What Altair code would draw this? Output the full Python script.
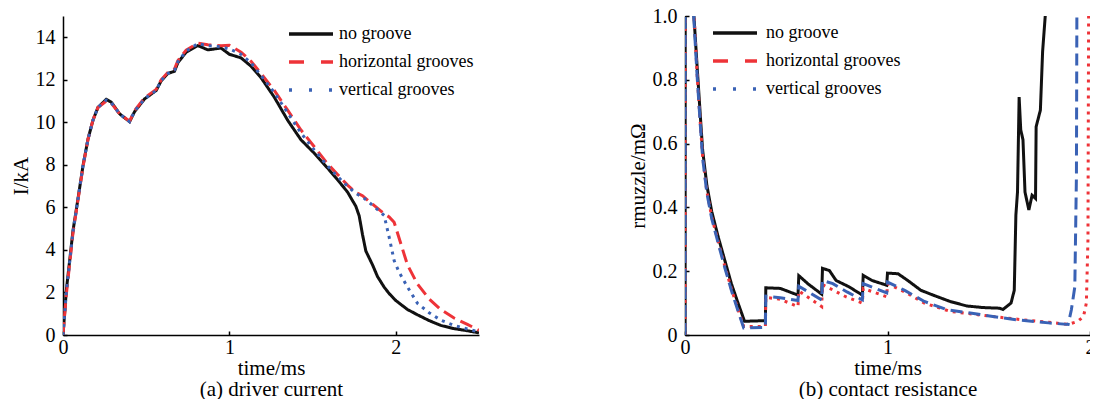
import altair as alt
import pandas as pd

SERIES = ["no groove", "horizontal grooves", "vertical grooves"]
COLORS = ["#111111", "#ee3338", "#3a62b5"]
FONT = "Liberation Serif"

# (a) driver current: (time ms, current kA)
L_NONE = [(0, 0), (0.02, 2.1), (0.06, 4.9), (0.09, 6.4), (0.12, 7.95), (0.15, 9.2), (0.18, 10.1),
          (0.21, 10.7), (0.26, 11.08), (0.29, 10.95), (0.34, 10.4), (0.40, 10.03), (0.43, 10.5),
          (0.49, 11.1), (0.56, 11.5), (0.59, 11.95), (0.63, 12.3), (0.67, 12.4), (0.69, 12.8),
          (0.74, 13.3), (0.81, 13.61), (0.87, 13.41), (0.95, 13.49), (1.0, 13.2), (1.07, 13.03),
          (1.13, 12.64), (1.19, 12.1), (1.27, 11.18), (1.35, 10.1), (1.43, 9.18), (1.51, 8.55),
          (1.59, 7.85), (1.65, 7.3), (1.71, 6.72), (1.76, 6.05), (1.78, 5.6), (1.80, 4.72),
          (1.82, 3.95), (1.86, 3.3), (1.89, 2.75), (1.93, 2.25), (1.96, 1.95), (2.0, 1.62),
          (2.07, 1.2), (2.13, 0.95), (2.2, 0.68), (2.27, 0.45), (2.35, 0.3), (2.43, 0.2), (2.5, 0.1)]
L_HORIZ = [(0, 0), (0.02, 1.9), (0.06, 4.8), (0.09, 6.35), (0.12, 7.9), (0.15, 9.2), (0.18, 10.1),
           (0.21, 10.7), (0.26, 11.0), (0.29, 10.9), (0.34, 10.4), (0.40, 10.05), (0.43, 10.55),
           (0.49, 11.15), (0.56, 11.55), (0.59, 12.0), (0.63, 12.35), (0.67, 12.5), (0.69, 12.9),
           (0.74, 13.4), (0.81, 13.72), (0.87, 13.65), (0.95, 13.6), (1.0, 13.62), (1.07, 13.3),
           (1.13, 12.87), (1.19, 12.3), (1.27, 11.5), (1.35, 10.57), (1.43, 9.64), (1.51, 8.85),
           (1.59, 8.05), (1.65, 7.55), (1.71, 7.05), (1.76, 6.7), (1.80, 6.55), (1.86, 6.15),
           (1.93, 5.7), (1.96, 5.55), (1.99, 5.3), (2.03, 4.3), (2.07, 3.3), (2.13, 2.4),
           (2.2, 1.7), (2.27, 1.2), (2.35, 0.8), (2.43, 0.5), (2.5, 0.22)]
L_VERT = [(0, 0), (0.02, 2.0), (0.06, 4.85), (0.09, 6.4), (0.12, 7.95), (0.15, 9.2), (0.18, 10.1),
          (0.21, 10.7), (0.26, 11.05), (0.29, 10.92), (0.34, 10.4), (0.40, 10.03), (0.43, 10.52),
          (0.49, 11.1), (0.56, 11.5), (0.59, 11.97), (0.63, 12.3), (0.67, 12.45), (0.69, 12.85),
          (0.74, 13.35), (0.81, 13.7), (0.87, 13.6), (0.95, 13.55), (1.0, 13.45), (1.07, 13.2),
          (1.13, 12.8), (1.19, 12.2), (1.27, 11.4), (1.35, 10.45), (1.43, 9.5), (1.51, 8.7),
          (1.59, 7.95), (1.65, 7.45), (1.71, 7.0), (1.76, 6.65), (1.80, 6.5), (1.86, 6.1),
          (1.93, 5.62), (1.96, 4.6), (1.99, 3.5), (2.02, 2.95), (2.07, 2.26), (2.13, 1.49),
          (2.2, 1.05), (2.27, 0.7), (2.35, 0.45), (2.43, 0.28), (2.5, 0.15)]

# (b) contact resistance: (time ms, rmuzzle mOhm)
R_NONE = [(0, 0), (0.001, 1.6), (0.03, 1.2), (0.044, 1.0), (0.06, 0.84), (0.076, 0.684), (0.087, 0.58),
          (0.108, 0.469), (0.132, 0.387), (0.165, 0.305), (0.197, 0.233), (0.229, 0.161), (0.262, 0.1),
          (0.294, 0.043), (0.397, 0.045), (0.399, 0.148), (0.471, 0.146), (0.558, 0.125), (0.562, 0.186),
          (0.61, 0.159), (0.675, 0.128), (0.679, 0.209), (0.713, 0.202), (0.746, 0.171), (0.81, 0.151),
          (0.876, 0.125), (0.88, 0.187), (0.923, 0.171), (0.996, 0.156), (1.0, 0.194), (1.052, 0.192),
          (1.1, 0.171), (1.165, 0.14), (1.246, 0.12), (1.31, 0.105), (1.391, 0.091), (1.472, 0.086),
          (1.553, 0.084), (1.57, 0.08), (1.61, 0.1), (1.626, 0.14), (1.634, 0.376), (1.642, 0.448),
          (1.65, 0.746), (1.658, 0.643), (1.669, 0.612), (1.679, 0.448), (1.698, 0.392), (1.714, 0.438),
          (1.731, 0.428), (1.734, 0.653), (1.755, 0.705), (1.766, 0.889), (1.779, 1.0), (1.79, 1.15)]
R_HORIZ = [(0, 0), (0.001, 1.6), (0.03, 1.2), (0.045, 1.0), (0.06, 0.815), (0.076, 0.66), (0.087, 0.56),
           (0.108, 0.45), (0.132, 0.37), (0.165, 0.29), (0.197, 0.215), (0.229, 0.145), (0.262, 0.08),
           (0.29, 0.027), (0.397, 0.027), (0.399, 0.118), (0.47, 0.112), (0.558, 0.089), (0.562, 0.138),
           (0.675, 0.089), (0.679, 0.158), (0.794, 0.12), (0.876, 0.1), (0.88, 0.146), (0.996, 0.12),
           (1.0, 0.161), (1.085, 0.135), (1.182, 0.1), (1.31, 0.074), (1.52, 0.058), (1.634, 0.05),
           (1.795, 0.04), (1.892, 0.033), (1.94, 0.043), (1.968, 0.058), (1.982, 0.1), (1.99, 0.3),
           (1.994, 1.2)]
R_VERT = [(0, 0), (0.001, 1.6), (0.03, 1.2), (0.043, 1.0), (0.06, 0.81), (0.076, 0.655), (0.087, 0.555),
          (0.108, 0.445), (0.132, 0.365), (0.165, 0.285), (0.197, 0.21), (0.229, 0.14), (0.262, 0.075),
          (0.29, 0.022), (0.397, 0.024), (0.399, 0.122), (0.47, 0.117), (0.558, 0.108), (0.562, 0.153),
          (0.675, 0.11), (0.679, 0.171), (0.73, 0.161), (0.8, 0.135), (0.876, 0.11), (0.88, 0.161),
          (0.996, 0.132), (1.0, 0.166), (1.085, 0.14), (1.182, 0.105), (1.295, 0.079), (1.408, 0.069),
          (1.52, 0.058), (1.634, 0.048), (1.795, 0.038), (1.892, 0.033), (1.908, 0.079), (1.925, 0.151),
          (1.933, 0.5), (1.936, 1.2)]

LEFT_X_TICKS = [0, 1, 2]
LEFT_Y_TICKS = [0, 2, 4, 6, 8, 10, 12, 14]
RIGHT_X_TICKS = [0, 1, 2]
RIGHT_Y_TICKS = [0, 0.2, 0.4, 0.6, 0.8, 1.0]

H = 319


def frame(series_lists):
    rows = []
    for name, pts in zip(SERIES, series_lists):
        for t, v in pts:
            rows.append({"series": name, "t": t, "v": v})
    return pd.DataFrame(rows)


def panel(df, xdom, xticks, ydom, yticks, ytitle, xtitle, W, plot_dash, key_dash,
          lx, ly, loff, ylabel_expr=None):
    xs = alt.Scale(domain=xdom, nice=False, zero=False)
    ys = alt.Scale(domain=ydom, nice=False, zero=False)
    yaxis_kw = dict(values=yticks, title=ytitle, ticks=False, tickSize=0, labelPadding=8,
                    titlePadding=4, grid=False, labelFlush=False, labelOverlap=False)
    if ylabel_expr:
        yaxis_kw["labelExpr"] = ylabel_expr
    lines = alt.Chart(df).mark_line(clip=True, strokeWidth=3).encode(
        x=alt.X("t:Q", scale=xs, axis=alt.Axis(values=xticks, title=xtitle, orient="bottom",
                                              ticks=False, tickSize=0, labelPadding=2,
                                              titlePadding=0, titleLineHeight=21, grid=False,
                                              labelExpr="format(datum.value, 'd')",
                                              labelFlush=False, labelOverlap=False)),
        y=alt.Y("v:Q", scale=ys, axis=alt.Axis(**yaxis_kw)),
        color=alt.Color("series:N", scale=alt.Scale(domain=SERIES, range=COLORS), legend=None),
        strokeDash=alt.StrokeDash("series:N", scale=alt.Scale(domain=SERIES, range=plot_dash),
                                  legend=None),
    )
    leg = alt.Legend(orient="none", legendX=lx, legendY=ly, title=None, labelFont=FONT,
                     labelFontSize=18, labelColor="black", symbolType="M-4,0H4",
                     symbolSize=121, symbolStrokeWidth=3.5, rowPadding=10, padding=0,
                     labelOffset=loff)
    key_df = pd.DataFrame({"series": SERIES, "t": [xdom[0]] * 3, "v": [ydom[0]] * 3})
    key = alt.Chart(key_df).mark_line(strokeWidth=3.5).encode(
        x=alt.X("t:Q", scale=xs, axis=alt.Axis(orient="top", offset=-H, values=xticks,
                                              labels=False, domain=False, tickSize=4,
                                              title=None, grid=False)),
        y=alt.Y("v:Q", scale=ys, axis=alt.Axis(orient="right", offset=-W, values=yticks,
                                              labels=False, domain=False, tickSize=4,
                                              title=None, grid=False)),
        color=alt.Color("series:N", scale=alt.Scale(domain=SERIES, range=COLORS), legend=leg),
        strokeDash=alt.StrokeDash("series:N", scale=alt.Scale(domain=SERIES, range=key_dash),
                                  legend=leg),
    )
    return (alt.layer(lines, key)
            .resolve_scale(color="independent", strokeDash="independent")
            .resolve_axis(x="independent", y="independent")
            .properties(width=W, height=H))


KEY_DASH = [[1, 0], [15, 17], [3, 17]]
left = panel(frame([L_NONE, L_HORIZ, L_VERT]), [0, 2.5], LEFT_X_TICKS, [0, 15], LEFT_Y_TICKS,
             "I/kA", ["time/ms", "(a) driver current"], 416,
             [[1, 0], [13, 6], [3, 5]], KEY_DASH, 239, 9, 19)
right = panel(frame([R_NONE, R_HORIZ, R_VERT]), [0, 2], RIGHT_X_TICKS, [0, 1], RIGHT_Y_TICKS,
              "rmuzzle/mΩ", ["time/ms", "(b) contact resistance"], 405,
              [[1, 0], [3, 5], [12, 6]], KEY_DASH, 41, 8, 22,
              ylabel_expr="datum.value == 0 ? '0' : format(datum.value, '.1f')")

chart = (alt.hconcat(left, right, spacing=148)
         .resolve_scale(color="independent", strokeDash="independent")
         .properties(padding={"left": 2, "top": -2, "right": -5, "bottom": 0})
         .configure_view(stroke=None)
         .configure_axis(labelFont=FONT, labelFontSize=20, labelColor="black",
                         titleFont=FONT, titleFontSize=21, titleFontWeight="normal",
                         titleColor="black", domainColor="black", domainWidth=1.5,
                         tickColor="black", tickWidth=1.5))

chart.save("out.html", embed_options={"renderer": "svg", "actions": False})
